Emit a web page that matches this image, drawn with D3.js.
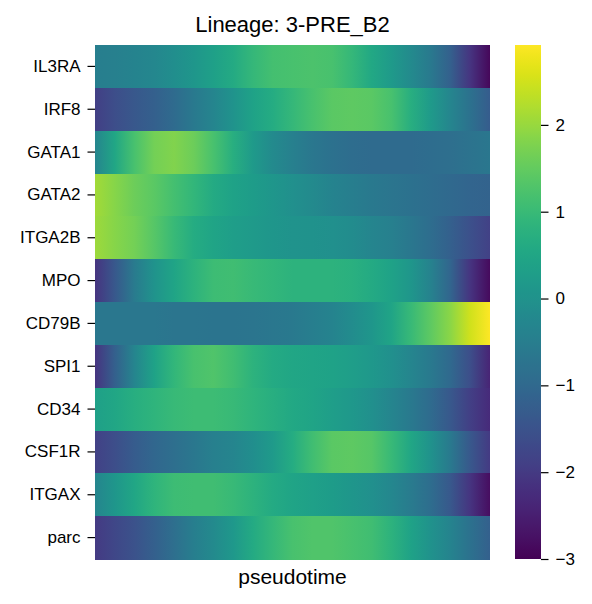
<!DOCTYPE html>
<html>
<head>
<meta charset="utf-8">
<script src="https://cdn.jsdelivr.net/npm/d3@7"></script>
<style>
  html, body { margin: 0; padding: 0; background: #fff; }
  text { font-family: "Liberation Sans", Arial, Helvetica, sans-serif; fill: #000; }
</style>
</head>
<body>
<svg id="chart" width="592" height="604"></svg>
<script>
const title = "Lineage: 3-PRE_B2";
const xLabel = "pseudotime";
const genes = ["IL3RA","IRF8","GATA1","GATA2","ITGA2B","MPO","CD79B","SPI1","CD34","CSF1R","ITGAX","parc"];
const pseudotime = [0,0.05,0.1,0.15,0.2,0.25,0.3,0.35,0.4,0.45,0.5,0.55,0.6,0.65,0.7,0.75,0.8,0.85,0.9,0.95,1.0];

const IL3RA  = [-0.5,-0.45,-0.35,-0.25,-0.1,0.1,0.35,0.6,0.95,1.15,1.2,1.25,1.2,0.95,0.55,0.2,-0.2,-0.6,-1.2,-2.1,-2.9];
const IRF8   = [-1.9,-1.6,-1.4,-1.2,-0.95,-0.6,-0.3,0.05,0.4,0.65,0.95,1.2,1.4,1.45,1.4,1.2,0.7,0.2,-0.3,-0.8,-1.3];
const GATA1  = [-0.3,0.5,1.2,1.65,1.8,1.6,1.2,0.7,0.2,-0.2,-0.45,-0.65,-0.8,-0.9,-0.95,-0.95,-0.95,-0.9,-0.85,-0.75,-0.65];
const GATA2  = [2.1,1.85,1.6,1.4,1.15,0.9,0.6,0.4,0.25,0.1,-0.05,-0.2,-0.35,-0.5,-0.6,-0.7,-0.8,-0.9,-1.0,-1.1,-1.15];
const ITGA2B = [2.05,1.85,1.65,1.35,1.0,0.65,0.45,0.3,0.2,0.1,0.05,0.0,-0.05,-0.15,-0.3,-0.45,-0.65,-0.9,-1.2,-1.55,-1.85];
const MPO    = [-2.1,-1.4,-0.55,0.05,0.45,0.8,1.05,1.1,1.0,0.9,0.8,0.8,0.8,0.75,0.6,0.4,0.1,-0.4,-1.1,-2.1,-2.85];
const CD79B  = [-0.65,-0.65,-0.65,-0.65,-0.7,-0.7,-0.72,-0.72,-0.7,-0.65,-0.6,-0.5,-0.35,-0.15,0.1,0.45,1.0,1.45,1.9,2.5,2.92];
const SPI1   = [-2.1,-1.2,-0.3,0.4,0.9,1.2,1.3,1.1,0.8,0.6,0.5,0.45,0.4,0.3,0.15,-0.05,-0.3,-0.6,-1.0,-1.6,-2.4];
const CD34   = [0.35,0.5,0.7,0.85,1.0,1.05,1.05,1.0,0.85,0.7,0.55,0.45,0.3,0.15,-0.05,-0.3,-0.6,-0.95,-1.4,-1.9,-2.3];
const CSF1R  = [-1.85,-1.6,-1.3,-1.05,-0.85,-0.65,-0.45,-0.3,-0.1,0.2,0.65,1.1,1.4,1.45,1.35,1.0,0.5,0.0,-0.6,-1.4,-2.0];
const ITGAX  = [-0.3,0.1,0.5,0.85,1.05,1.1,1.1,1.0,0.8,0.6,0.45,0.35,0.25,0.1,-0.05,-0.25,-0.55,-0.9,-1.4,-2.1,-2.8];
const parc   = [-2.0,-1.75,-1.5,-1.2,-0.85,-0.5,-0.2,0.15,0.6,0.95,1.2,1.3,1.3,1.2,1.1,0.8,0.4,0.0,-0.35,-0.8,-1.2];

const colorbarTicks = [-3,-2,-1,0,1,2];
const vmin = -3, vmax = 2.92;

const rows = [IL3RA,IRF8,GATA1,GATA2,ITGA2B,MPO,CD79B,SPI1,CD34,CSF1R,ITGAX,parc];
const table = genes.map((g,i) => ({gene: g, values: rows[i]}));

const svg = d3.select("#chart");
const plot = {left: 95, right: 490, top: 45, bottom: 559};
const cb = {left: 515, right: 541};

const x = d3.scaleLinear().domain([0,1]).range([plot.left, plot.right]);
const y = d3.scaleBand().domain(genes).range([plot.top, plot.bottom]).padding(0);
const color = d3.scaleSequential(d3.interpolateViridis).domain([vmin, vmax]);

const defs = svg.append("defs");
table.forEach((d,i) => {
  const grad = defs.append("linearGradient")
    .attr("id", "g" + i)
    .attr("x1", "0%").attr("x2", "100%").attr("y1", "0%").attr("y2", "0%");
  grad.selectAll("stop").data(d.values).join("stop")
    .attr("offset", (v,j) => (pseudotime[j]*100) + "%")
    .attr("stop-color", v => color(v));
});

svg.append("g").selectAll("rect").data(table).join("rect")
  .attr("x", x(0))
  .attr("width", x(1) - x(0))
  .attr("y", d => y(d.gene))
  .attr("height", y.bandwidth() + 0.5)
  .attr("fill", (d,i) => `url(#g${i})`)
  .attr("shape-rendering", "crispEdges");

// Y axis
const yAxis = svg.append("g").attr("transform", `translate(${plot.left},0)`)
  .call(d3.axisLeft(y).tickSize(7.5).tickPadding(7));
yAxis.select(".domain").remove();
yAxis.selectAll(".tick line").attr("stroke", "#000").attr("stroke-width", 1.2);
yAxis.selectAll(".tick text").attr("font-size", "17px")
  .style("font-family", '"Liberation Sans", Arial, sans-serif').attr("fill", "#000");

// Title & x label
svg.append("text").attr("x", (plot.left + plot.right)/2).attr("y", 32)
  .attr("text-anchor", "middle").attr("font-size", "22px").text(title);
svg.append("text").attr("x", (plot.left + plot.right)/2).attr("y", 584)
  .attr("text-anchor", "middle").attr("font-size", "21px").text(xLabel);

// Colorbar
const cbScale = d3.scaleLinear().domain([vmin, vmax]).range([plot.bottom, plot.top]);
const cbGrad = defs.append("linearGradient").attr("id", "cbgrad")
  .attr("x1", "0%").attr("x2", "0%").attr("y1", "100%").attr("y2", "0%");
const nStops = 50;
cbGrad.selectAll("stop").data(d3.range(nStops + 1)).join("stop")
  .attr("offset", k => (k / nStops * 100) + "%")
  .attr("stop-color", k => d3.interpolateViridis(k / nStops));
svg.append("rect").attr("x", cb.left).attr("width", cb.right - cb.left)
  .attr("y", plot.top).attr("height", plot.bottom - plot.top)
  .attr("fill", "url(#cbgrad)");

const cbAxis = svg.append("g").attr("transform", `translate(${cb.right},0)`)
  .call(d3.axisRight(cbScale).tickValues(colorbarTicks).tickSize(7.5).tickPadding(7)
    .tickFormat(d => d < 0 ? "\u2212" + Math.abs(d) : String(d)));
cbAxis.select(".domain").remove();
cbAxis.selectAll(".tick line").attr("stroke", "#000").attr("stroke-width", 1.2);
cbAxis.selectAll(".tick text").attr("font-size", "17px")
  .style("font-family", '"Liberation Sans", Arial, sans-serif').attr("fill", "#000");
</script>
</body>
</html>
